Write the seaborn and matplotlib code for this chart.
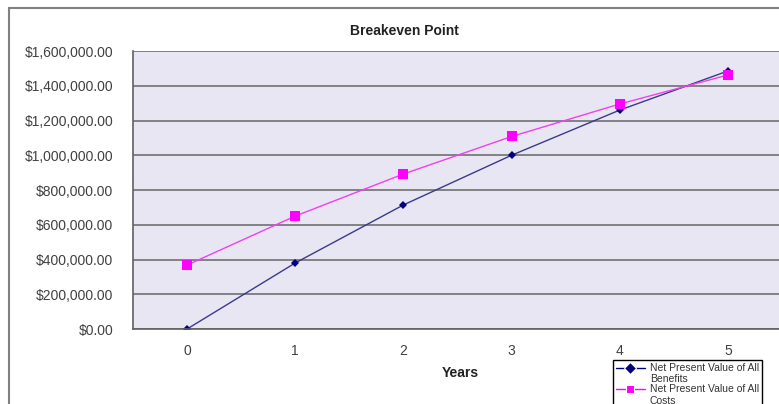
import numpy as np
import pandas as pd
import matplotlib
matplotlib.use("Agg")
import matplotlib.pyplot as plt
import matplotlib.ticker as mticker
from matplotlib.patches import Rectangle
from matplotlib.lines import Line2D
from matplotlib.legend_handler import HandlerLine2D
import seaborn as sns

# data
years = [0, 1, 2, 3, 4, 5]
npv_benefits = [0, 380000, 714000, 1000000, 1260000, 1485000]
npv_costs = [368000, 650000, 892000, 1108000, 1295000, 1462000]
series_names = ["Net Present Value of All\nBenefits", "Net Present Value of All\nCosts"]

df = pd.DataFrame({
    "Years": years * 2,
    "Value": npv_benefits + npv_costs,
    "Series": [series_names[0]] * len(years) + [series_names[1]] * len(years),
})


class TopLineHandler(HandlerLine2D):
    # put the legend symbol next to the first text line, like Excel does
    def create_artists(self, legend, orig_handle, xdescent, ydescent, width, height, fontsize, trans):
        arts = super().create_artists(legend, orig_handle, xdescent, ydescent, width, height, fontsize, trans)
        for a in arts:
            a.set_ydata(np.asarray(a.get_ydata(), dtype=float) + 0.6 * fontsize)
        return arts


sns.set_style("white")
plt.rcParams["font.family"] = ["Liberation Sans", "DejaVu Sans"]

fig = plt.figure(figsize=(7.79, 4.04), dpi=100)
W, H = 779, 404
ax = fig.add_axes([133 / W, 75 / H, 649 / W, 278 / H])
ax.set_facecolor("#E8E6F2")

sns.lineplot(data=df, x="Years", y="Value", hue="Series", style="Series",
             markers={series_names[0]: "D", series_names[1]: "s"}, dashes=False,
             palette={series_names[0]: "#000080", series_names[1]: "#FF00FF"},
             linewidth=1, ax=ax)
for line, ms in zip(ax.lines, [4, 6.5]):
    line.set_markersize(ms)
    line.set_markeredgewidth(0)
ax.lines[0].set_color("#3A3A8A")
ax.lines[0].set_markerfacecolor("#000080")
ax.lines[1].set_color("#F040F0")
ax.lines[1].set_markerfacecolor("#FF00FF")

ax.set_xlim(-0.5, 5.5)
ax.set_ylim(0, 1600000)
ax.yaxis.set_major_locator(mticker.MultipleLocator(200000))
ax.yaxis.set_major_formatter(mticker.FuncFormatter(lambda v, p: f"${v:,.2f}"))
ax.set_xticks(years)
ax.set_xticks([0.5, 1.5, 2.5, 3.5, 4.5], minor=True)
ax.tick_params(axis="x", which="major", length=0, pad=11, labelsize=10, labelcolor="#404040")
ax.tick_params(axis="x", which="minor", length=4, width=1, color="#606060", direction="out")
ax.tick_params(axis="y", which="major", length=4, width=1, color="#606060", direction="out",
               pad=10, labelsize=10, labelcolor="#404040")
ax.grid(axis="y", color="#707070", linewidth=1.2)
ax.grid(axis="x", visible=False)
for s in ["top", "right"]:
    ax.spines[s].set_visible(False)
for s in ["left", "bottom"]:
    ax.spines[s].set_color("#606060")
    ax.spines[s].set_linewidth(1.2)

ax.set_ylabel("")
ax.set_xlabel("Years", fontsize=10, fontweight="bold", color="#222222")
ax.xaxis.set_label_coords((460 - 133) / 649, -(373 - 329) / 278)
ax.xaxis.label.set_va("center")

fig.text(404 / W, 1 - 31 / H, "Breakeven Point", ha="center", va="center",
         fontsize=10, fontweight="bold", color="#222222")

leg = ax.legend(loc="upper left", bbox_to_anchor=(613 / W, 1 - 360 / H),
                bbox_transform=fig.transFigure, borderaxespad=0, fancybox=False,
                edgecolor="black", fontsize=7.5, handlelength=2.8, handletextpad=0.5,
                labelspacing=0.0, borderpad=0.25, framealpha=1,
                handler_map={Line2D: TopLineHandler()})
leg.get_frame().set_linewidth(1)
for t in leg.get_texts():
    t.set_color("#333333")
    t.set_linespacing(1.2)

# outer chart border (cropped on right and bottom)
fig.patches.append(Rectangle((9 / W, -0.1), 1.0, 1 - 8 / H + 0.1, transform=fig.transFigure,
                             fill=False, edgecolor="#808080", linewidth=1.5))

plt.savefig("out.png", dpi=100)
